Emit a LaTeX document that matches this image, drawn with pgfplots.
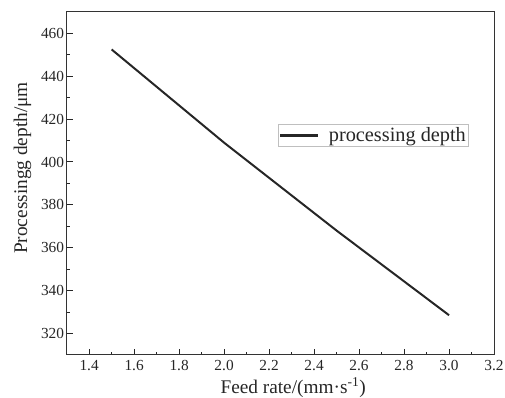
\documentclass[border=0pt]{standalone}
\usepackage{pgfplots}
\pgfplotsset{compat=1.18}
\usepackage{fontspec}
\setmainfont{Liberation Serif}
\begin{document}
\begin{tikzpicture}
\useasboundingbox (-67bp,-43bp) rectangle (441bp,357bp);
\begin{axis}[
  at={(0,0)}, anchor=south west,
  scale only axis,
  width=430bp, height=345bp,
  xmin=1.3, xmax=3.2, ymin=310, ymax=470,
  xtick={1.4,1.6,...,3.21},
  ytick={320,340,...,460},
  minor x tick num=1, minor y tick num=1,
  tick align=inside,
  xtick pos=left, ytick pos=left,
  major tick length=6bp, minor tick length=3bp,
  tick style={black!85, line width=1bp},
  axis line style={black!80, line width=1.1bp},
  /pgf/number format/assume math mode=true,
  ticklabel style={font=\fontsize{15.5}{18}\selectfont, text=black!85},
  xticklabel style={yshift=-2bp, /pgf/number format/.cd, fixed, fixed zerofill, precision=1},
  yticklabel style={xshift=1bp, /pgf/number format/.cd, fixed},
  label style={font=\fontsize{19.5}{22}\selectfont, text=black!85},
  xlabel={Feed rate/(mm·s\textsuperscript{-1})},
  ylabel={Processingg depth/μm},
  xlabel style={at={(ticklabel cs:0.53)}},
  ylabel style={at={(ticklabel cs:0.545)}, yshift=3bp},
  legend style={at={(0.942,0.672)}, anchor=north east, draw=black!25, line width=0.8bp,
    font=\fontsize{20.5}{22}\selectfont, inner sep=1bp, text=black!85},
  legend cell align=left,
  legend image code/.code={\draw[#1, line width=2.2bp] (0bp,0bp) -- (38bp,0bp); \path (46bp,0bp);},
]
\addplot[black!85, line width=2bp] coordinates {
  (1.5,452.5) (2.0,409) (2.5,368) (3.0,328.5)
};
\addlegendentry{processing depth}
\end{axis}
\end{tikzpicture}
\end{document}
